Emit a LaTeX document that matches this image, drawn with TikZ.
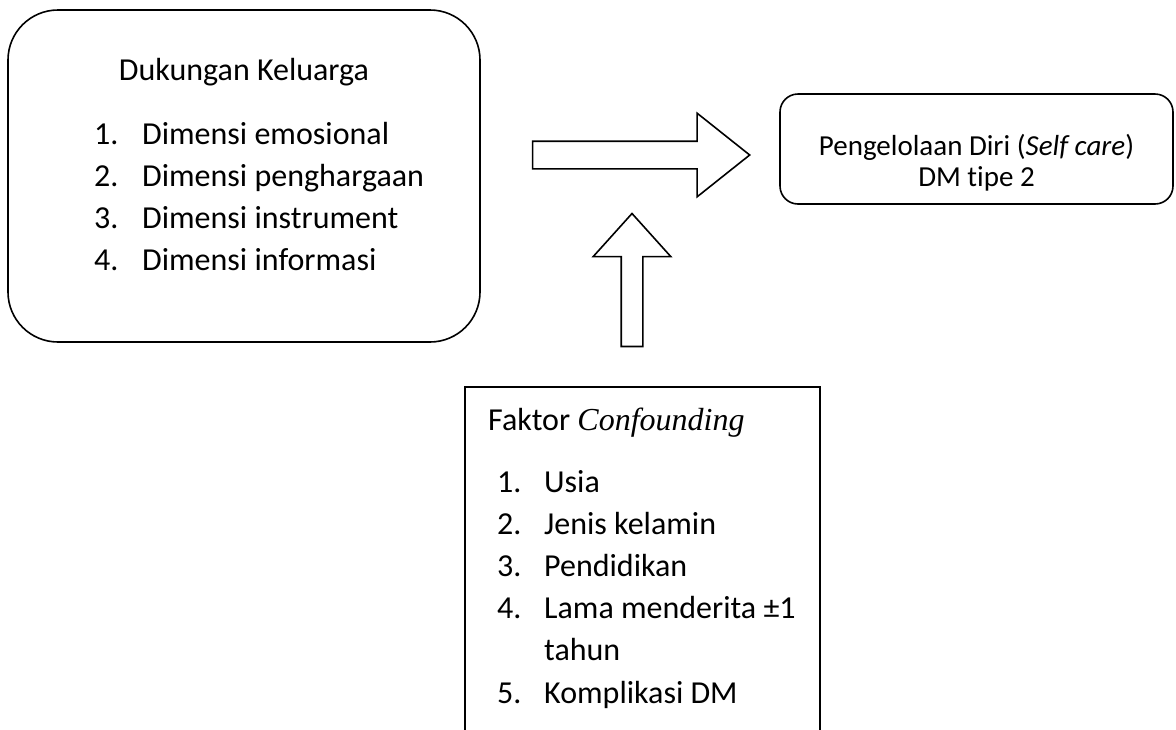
\documentclass[tikz,border=0pt]{standalone}
\usepackage{fontspec}
\setmainfont{Carlito}[Ligatures=NoCommon]
\newfontfamily\confoundSerif{Liberation Serif}
\usetikzlibrary{shapes.arrows}
\tikzset{
    % Box Styles
    frameBox/.style={
        rectangle,
        draw=black,
        line width=1.6pt,
        inner sep=0pt
    },
    familyBox/.style={frameBox, rounded corners=50pt, minimum width=472pt, minimum height=332pt},
    selfcareBox/.style={frameBox, rounded corners=18pt, minimum width=393pt, minimum height=110pt},
    factorBox/.style={frameBox, minimum width=355pt, minimum height=413pt},
    % Text Styles
    listText/.style={align=left, inner sep=0pt, font=\fontsize{32}{42}\selectfont},
    headText/.style={inner sep=0pt, font=\fontsize{32}{38}\selectfont},
    % Block Arrow Style
    blockArrow/.style={
        single arrow,
        draw=black,
        line width=1.6pt,
        fill=white
    }
}

\begin{document}
\begin{tikzpicture}[x=1pt, y=-1pt]

    \clip (0,0) rectangle (1176,729);

    % --- LEFT BOX (Dukungan Keluarga) ---
    \node (family) [familyBox] at (244,176) {};
    \node (familyHead) [headText, anchor=base] at (244,80) {Dukungan Keluarga};
    % anchored on the baseline of the last line
    \node (familyList) [listText, anchor=base west] at (94,270) {
        \makebox[48pt][l]{1.}Dimensi emosional \\
        \makebox[48pt][l]{2.}Dimensi penghargaan \\
        \makebox[48pt][l]{3.}Dimensi instrument \\
        \makebox[48pt][l]{4.}Dimensi informasi
    };

    % --- RIGHT BOX (Self care) ---
    \node (selfcare) [selfcareBox] at (976.5,149) {};
    \node (selfcareText) [align=center, inner sep=0pt, font=\fontsize{29}{31}\selectfont, anchor=base] at (976.5,186) {
        Pengelolaan Diri (\textit{Self care}) \\
        DM tipe 2
    };

    % --- BOTTOM BOX (Confounding) ---
    \node (factor) [factorBox] at (642.5,593.5) {};
    \node (factorHead) [headText, anchor=base west] at (488,430) {Faktor {\confoundSerif\itshape Confounding}};
    \node (factorList) [listText, font=\fontsize{32}{42.2}\selectfont, anchor=base west] at (497,703) {
        \makebox[47pt][l]{1.}Usia \\
        \makebox[47pt][l]{2.}Jenis kelamin \\
        \makebox[47pt][l]{3.}Pendidikan \\
        \makebox[47pt][l]{4.}Lama menderita ±1 \\
        \makebox[47pt][l]{}tahun \\
        \makebox[47pt][l]{5.}Komplikasi DM
    };

    % --- Block Arrows ---
    \node (toSelfcare) [blockArrow, inner sep=13pt, minimum height=217pt,
        single arrow head extend=28pt, single arrow tip angle=77] at (632.5,155) {};
    \node (fromFactor) [blockArrow, inner sep=10pt, minimum height=133pt,
        single arrow head extend=28pt, single arrow tip angle=84, shape border rotate=90] at (632,286) {};

\end{tikzpicture}
\end{document}
